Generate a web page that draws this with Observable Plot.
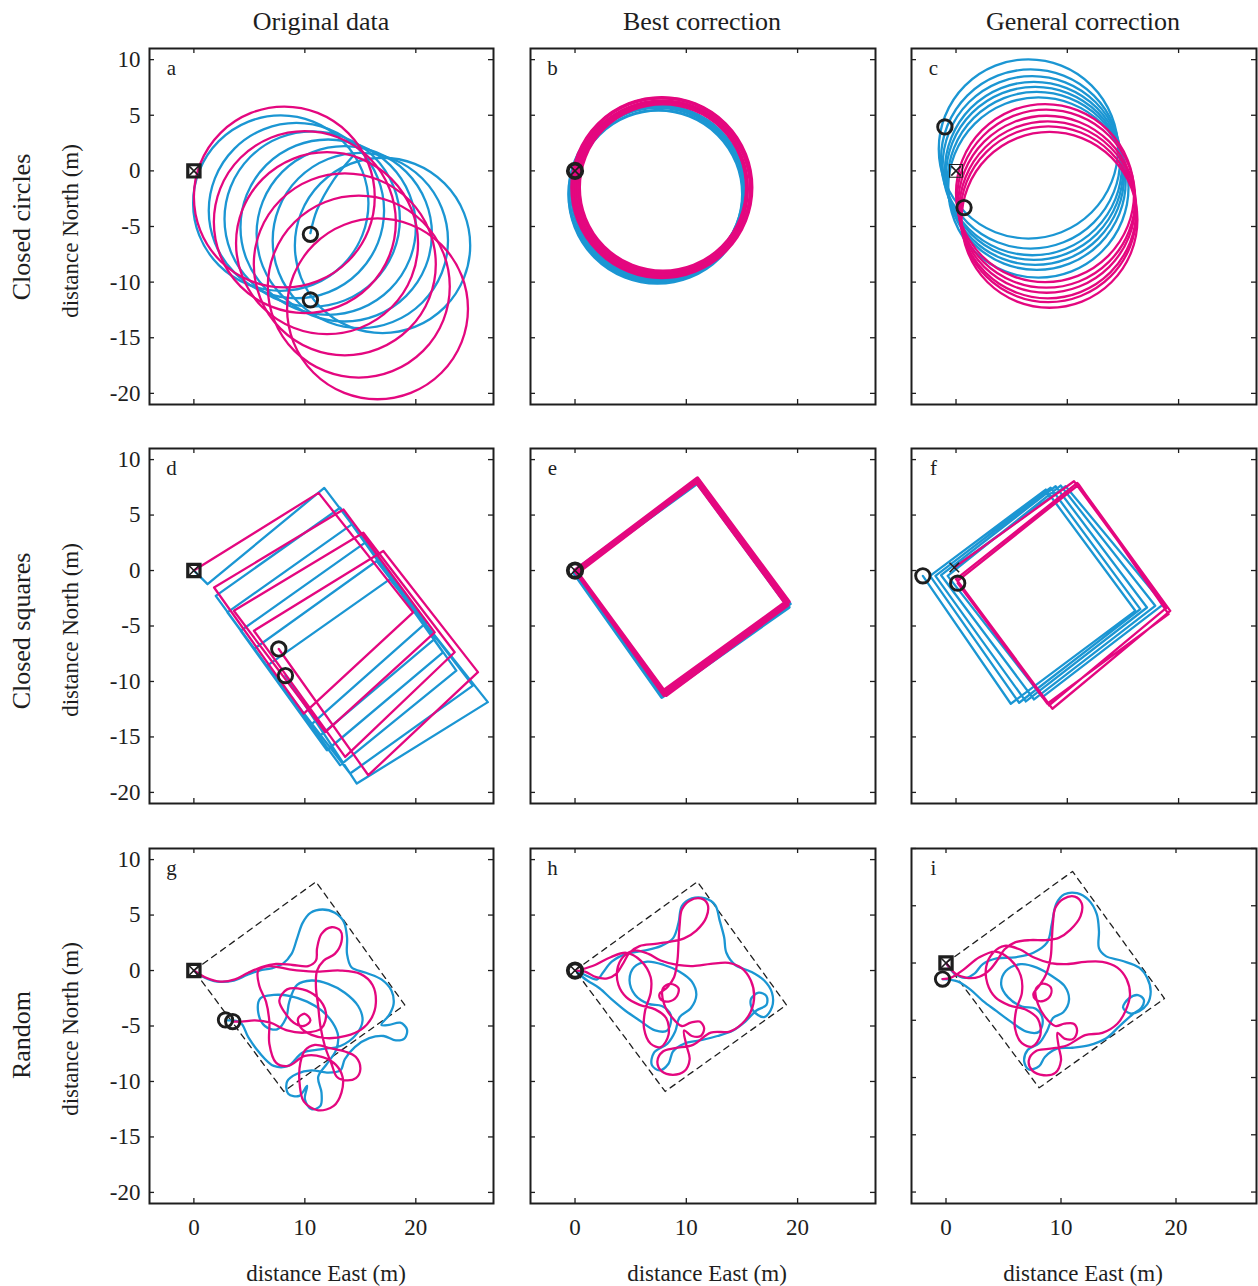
<!DOCTYPE html>
<html><head><meta charset="utf-8">
<script src="https://cdn.jsdelivr.net/npm/d3@7"></script>
<script src="https://cdn.jsdelivr.net/npm/@observablehq/plot@0.6"></script>
<style>
body{margin:0;background:#fff;}
#root{position:relative;width:1258px;height:1286px;overflow:hidden;font-family:"Liberation Serif","Times New Roman",serif;color:#1e1e1e;background:#fff;}
.lbl{position:absolute;white-space:nowrap;transform:translate(-50%,-50%);line-height:1;}
.rot{transform:translate(-50%,-50%) rotate(-90deg);}
</style></head><body><div id="root"></div>
<script>
// ---------- texts ----------
const columnTitles = ["Original data", "Best correction", "General correction"];
const rowTitles = ["Closed circles", "Closed squares", "Random"];
const yAxisTitle = "distance North (m)";
const xAxisTitle = "distance East (m)";
const panelLetters = ["a","b","c","d","e","f","g","h","i"];
const yTickValues = [10, 5, 0, -5, -10, -15, -20];
const xTickValues = [0, 10, 20];

// ---------- data (metres) ----------
// circle loops: [centre East, centre North, radius]
const loopsA_blue = [[7.83,-2.9,7.9],[9.24,-3.57,7.9],[10.66,-4.33,7.9],[12.1,-5.06,7.9],[13.55,-5.66,7.9],[15.0,-6.26,7.9],[17.0,-6.7,7.9]];
const loopsA_magenta = [[8.15,-2.35,8.15],[10.0,-4.6,8.2],[12.0,-6.5,8.2],[13.6,-8.4,8.2],[14.86,-10.4,8.2],[16.55,-12.4,8.15]];
const tailA_blue = [[14.3,1.3],[12.6,-0.8],[11.1,-3.5],[10.5,-5.6]];
const loopsB_blue = [[7.4,-2.15,7.95],[7.5,-2.05,7.8],[7.45,-1.95,7.65],[7.5,-2.1,7.55],[7.6,-1.9,7.75],[7.35,-2.0,7.9]];
const loopsB_magenta = [[7.8,-1.5,8.1],[7.85,-1.6,7.9],[7.75,-1.55,7.7],[7.9,-1.5,7.5],[7.8,-1.45,8.0],[7.7,-1.6,7.8],[7.85,-1.5,7.6]];
const loopsC_blue = [[6.5,1.97,8.05],[6.7,1.07,8.05],[6.85,0.47,8.05],[7.0,0.0,8.0],[7.1,-0.45,8.0],[7.25,-0.9,8.0],[7.4,-1.5,8.1]];
const loopsC_magenta = [[8.0,-2.0,8.0],[8.1,-2.5,8.0],[8.15,-3.0,7.95],[8.25,-3.5,7.95],[8.3,-3.9,7.9],[8.4,-4.4,7.9]];

// square walks: [East, North]
const pathD_blue = [[0,0],[1.23,-1.23],[11.75,7.45],[20.96,-4.67],[10.49,-13.96],[1.97,-2.28],[13.18,5.66],[21.7,-6.17],[11.24,-15.0],[3.02,-3.77],[14.23,4.16],[22.45,-7.37],[11.99,-16.2],[4.22,-5.43],[15.43,2.51],[23.65,-9.02],[13.18,-17.55],[5.41,-7.07],[16.47,0.86],[25.14,-10.37],[14.08,-18.3],[6.61,-8.57],[17.67,-0.78],[26.49,-11.86],[14.68,-19.2],[8.25,-9.47]];
const pathD_magenta = [[0,0],[11.24,7.0],[19.76,-3.77],[9.9,-12.9],[1.82,-1.53],[13.48,5.5],[21.7,-5.57],[11.84,-14.56],[3.6,-3.63],[15.27,3.41],[23.5,-7.37],[13.63,-16.8],[5.41,-5.43],[17.07,1.76],[25.6,-9.16],[15.72,-18.45],[7.65,-7.07]];
const pathE_blue = [[0,0],[10.9,8.0],[19.3,-3.0],[7.8,-11.4],[-0.1,-0.2],[11.0,7.9],[19.2,-3.3],[7.9,-11.3],[0,0],[11.1,8.1],[19.1,-3.1],[7.7,-11.2],[0,0]];
const pathE_magenta = [[0,0],[11.0,8.3],[19.2,-2.8],[8.0,-11.2],[0.1,-0.1],[11.1,8.1],[19.0,-3.0],[8.1,-11.0],[0.2,-0.2],[10.9,8.0],[18.9,-2.9],[7.9,-10.9],[0.1,-0.1],[11.05,8.2],[19.1,-3.1],[8.2,-11.2],[0,0]];
const pathF_blue = [[-0.15,0.27],[9.85,7.6],[18.65,-3.03],[7.76,-11.41],[-0.75,-0.48],[9.4,7.66],[17.9,-3.18],[7.01,-11.62],[-1.34,-0.42],[8.95,7.6],[17.16,-3.33],[6.27,-11.8],[-1.85,-0.48],[8.5,7.46],[16.56,-3.48],[5.67,-11.92],[-2.33,-0.48],[8.06,7.3],[16.11,-3.63],[4.92,-12.01],[-2.98,-0.48]];
const pathF_magenta = [[-0.15,0.27],[10.6,8.05],[18.95,-3.33],[8.36,-12.16],[0,-0.78],[10.9,7.9],[19.25,-3.63],[8.66,-12.46],[0.15,-0.93],[11.04,7.75],[19.1,-3.93],[8.2,-12.0],[0.15,-1.14]];

// random walks
const pathG_blue = [[0,0],[0.9,-0.6],[2.1,-1.0],[3.6,-0.9],[4.8,-0.4],[5.9,0.0],[7.0,0.2],[8.0,0.6],[8.8,1.5],[9.3,2.9],[9.8,4.3],[10.5,5.2],[11.6,5.5],[12.7,5.2],[13.5,4.4],[13.8,3.0],[13.8,1.5],[14.2,0.3],[15.5,-0.2],[16.9,-0.8],[17.8,-1.8],[18.0,-3.0],[17.6,-4.0],[16.9,-4.9],[17.6,-4.9],[18.6,-4.7],[19.2,-5.3],[19.0,-6.1],[18.2,-6.3],[17.1,-5.9],[15.8,-6.1],[14.5,-6.9],[13.6,-8.0],[13.2,-9.0],[12.0,-9.2],[10.6,-9.0],[9.3,-9.3],[8.4,-10.0],[8.5,-11.1],[9.5,-11.3],[10.2,-10.4],[10.0,-11.6],[10.6,-12.5],[11.4,-12.2],[11.5,-11.0],[11.2,-9.6],[12.0,-8.4],[12.8,-7.2],[13.0,-5.9],[12.5,-4.7],[11.5,-3.6],[10.2,-2.8],[8.7,-2.3],[7.2,-2.2],[6.0,-2.5],[5.8,-3.8],[6.4,-5.0],[7.5,-5.3],[8.3,-4.3],[8.6,-2.8],[9.3,-1.3],[10.6,-0.9],[12.1,-1.2],[13.6,-2.0],[14.8,-3.2],[15.2,-4.5],[14.6,-5.8],[13.2,-6.8],[11.4,-7.1],[9.8,-7.4],[8.5,-8.6],[7.2,-8.6],[5.9,-7.4],[4.9,-6.0],[4.2,-4.7],[3.0,-4.5]];
const pathG_magenta = [[0,0],[1.0,-0.6],[2.4,-1.0],[3.7,-0.8],[4.9,-0.2],[6.1,0.3],[7.4,0.6],[8.9,0.5],[10.3,0.4],[11.0,0.9],[11.1,2.0],[11.5,3.3],[12.4,3.9],[13.2,3.6],[13.3,2.6],[12.7,1.5],[11.7,0.9],[11.1,0.0],[11.0,-1.5],[11.2,-3.2],[11.4,-5.0],[11.8,-6.8],[12.4,-8.4],[12.9,-9.6],[13.7,-9.9],[14.6,-9.7],[15.0,-8.9],[14.6,-7.8],[13.6,-7.3],[12.3,-7.0],[10.9,-6.7],[10.0,-7.2],[9.6,-8.3],[9.5,-9.8],[9.9,-11.8],[11.2,-12.6],[12.6,-12.2],[13.3,-11.0],[13.4,-9.6],[12.8,-8.5],[11.6,-7.8],[10.0,-7.7],[8.5,-8.6],[7.4,-8.3],[6.8,-6.6],[6.8,-4.6],[6.5,-2.8],[5.9,-1.4],[5.8,0.0],[6.8,0.4],[8.6,0.1],[10.8,-0.1],[13.2,0.0],[15.0,-0.3],[16.1,-1.3],[16.4,-2.9],[16.0,-4.3],[15.1,-5.3],[13.7,-5.9],[12.0,-6.1],[10.6,-5.8],[9.6,-5.1],[9.4,-4.3],[10.0,-3.9],[10.5,-4.5],[9.9,-5.0],[9.0,-4.7],[8.2,-3.8],[7.7,-2.7],[8.4,-1.7],[9.8,-1.7],[11.1,-2.4],[11.9,-3.8],[11.5,-5.2],[10.0,-5.6],[8.4,-5.4],[6.9,-4.7],[5.5,-4.5],[4.3,-4.6],[3.5,-4.6]];
const pathH_blue = [[0,0],[0.9,-0.4],[2.0,-0.8],[2.5,-0.2],[3.3,0.8],[4.6,1.5],[6.2,1.8],[7.7,2.2],[8.8,2.9],[9.3,4.3],[9.6,5.8],[10.5,6.5],[11.7,6.5],[12.6,5.9],[13.0,4.5],[13.4,3.0],[13.6,1.6],[14.4,0.5],[15.8,-0.1],[17.0,-0.9],[17.7,-2.0],[17.7,-3.3],[17.0,-4.2],[16.0,-3.6],[15.8,-2.6],[16.5,-2.0],[17.2,-2.3],[17.2,-3.1],[16.3,-3.6],[15.3,-4.6],[14.2,-5.4],[12.8,-5.9],[11.2,-6.3],[9.8,-6.6],[8.8,-7.3],[8.4,-8.4],[7.6,-9.0],[6.9,-8.5],[7.1,-7.4],[8.3,-6.6],[9.0,-5.5],[9.4,-4.2],[10.4,-3.4],[10.9,-2.2],[10.5,-1.0],[9.4,-0.1],[8.0,0.5],[6.5,0.8],[5.3,0.3],[4.9,-0.9],[5.4,-2.2],[6.6,-3.0],[7.8,-3.2],[8.6,-4.0],[8.3,-5.4],[7.2,-5.4],[5.8,-4.5],[4.5,-3.6],[3.3,-2.6],[2.2,-1.6],[1.1,-0.9],[0.2,-0.2]];
const pathH_magenta = [[0,0],[0.9,-0.1],[1.9,-0.6],[2.9,-0.7],[3.7,-0.3],[4.3,0.6],[4.9,1.6],[5.8,2.2],[7.2,2.4],[8.6,2.6],[9.8,2.9],[10.9,3.6],[11.8,4.8],[11.9,6.0],[11.3,6.5],[10.3,6.3],[9.6,5.5],[9.4,4.1],[9.3,2.5],[9.2,0.9],[8.9,-0.6],[8.3,-1.5],[7.6,-2.1],[7.7,-2.6],[8.4,-2.8],[9.1,-2.4],[9.3,-1.6],[8.6,-1.2],[7.9,-1.6],[8.0,-3.0],[8.7,-4.2],[9.6,-5.0],[10.4,-4.7],[11.2,-4.6],[11.6,-5.2],[11.3,-5.9],[10.5,-5.9],[9.8,-5.4],[10.0,-6.7],[10.3,-8.0],[9.8,-9.1],[8.8,-9.4],[7.8,-9.1],[7.4,-8.2],[7.9,-7.3],[9.0,-7.0],[10.6,-6.7],[12.2,-5.6],[13.9,-5.5],[15.0,-4.8],[15.8,-3.7],[16.1,-2.3],[15.8,-0.9],[15.0,0.2],[13.8,0.7],[12.2,0.6],[10.6,0.4],[9.2,0.5],[7.7,0.9],[6.6,1.5],[5.3,1.8],[4.3,1.2],[3.8,0.1],[3.9,-1.3],[4.6,-2.4],[5.8,-3.1],[7.2,-3.5],[8.2,-4.3],[8.4,-5.8],[7.7,-6.9],[6.8,-6.6],[6.2,-5.2],[6.3,-3.6],[6.8,-2.0],[6.8,-0.6],[5.9,0.9],[4.6,1.6],[3.2,1.2],[1.8,0.5],[0.6,0.1]];
const pathI_blue = [[0,0],[0.7,-0.9],[1.7,-1.3],[2.5,-0.9],[3.2,-0.1],[4.4,0.4],[6.0,0.5],[7.6,0.9],[8.8,1.8],[9.2,3.4],[9.6,5.2],[10.3,6.0],[11.4,6.1],[12.4,5.5],[13.1,4.3],[13.3,2.8],[13.3,1.3],[13.9,0.6],[15.3,0.2],[16.8,-0.4],[17.5,-1.3],[17.8,-2.5],[17.5,-3.6],[16.8,-4.2],[16.0,-4.4],[15.4,-3.9],[15.9,-3.1],[16.7,-2.8],[17.2,-3.2],[17.0,-3.9],[16.2,-4.5],[15.1,-5.5],[13.9,-6.6],[12.4,-7.2],[11.0,-7.4],[9.6,-7.5],[8.6,-8.2],[8.1,-9.0],[7.2,-9.3],[6.8,-8.6],[7.1,-7.6],[8.1,-7.0],[8.8,-5.9],[9.3,-4.8],[10.2,-4.3],[10.7,-3.2],[10.3,-2.0],[9.3,-1.2],[7.9,-0.4],[6.5,-0.1],[5.2,-0.7],[4.8,-1.9],[5.4,-3.0],[6.6,-3.8],[7.8,-4.0],[8.4,-4.9],[8.1,-6.0],[7.0,-6.0],[5.6,-5.1],[4.4,-4.2],[3.2,-3.3],[2.1,-2.3],[1.0,-1.6],[-0.3,-1.4]];
const pathI_magenta = [[0,0],[0.8,-0.9],[1.8,-1.3],[2.9,-1.2],[3.8,-0.6],[4.5,0.3],[5.1,1.2],[6.0,1.8],[7.3,2.0],[8.7,2.0],[9.8,2.2],[10.8,2.9],[11.7,4.1],[11.8,5.2],[11.2,5.8],[10.2,5.6],[9.5,4.8],[9.3,3.5],[9.2,2.0],[9.1,0.5],[8.7,-1.0],[8.1,-2.0],[7.6,-2.7],[7.8,-3.2],[8.5,-3.3],[9.1,-2.8],[9.1,-2.1],[8.4,-1.8],[7.8,-2.3],[8.0,-3.6],[8.6,-4.7],[9.5,-5.5],[10.3,-5.3],[11.1,-5.3],[11.4,-5.9],[11.1,-6.6],[10.3,-6.6],[9.7,-6.1],[9.8,-7.3],[10.0,-8.5],[9.5,-9.6],[8.5,-9.8],[7.5,-9.4],[7.2,-8.5],[7.8,-7.7],[8.9,-7.5],[10.5,-7.2],[12.1,-6.3],[13.6,-6.1],[14.9,-5.3],[15.6,-4.2],[16.0,-2.8],[15.7,-1.4],[14.9,-0.4],[13.6,0.1],[12.1,0.1],[10.5,-0.1],[9.1,0.0],[7.6,0.5],[6.4,1.2],[5.1,1.5],[4.1,0.9],[3.5,-0.3],[3.6,-1.8],[4.3,-3.0],[5.5,-3.7],[7.0,-4.1],[8.0,-4.9],[8.2,-6.3],[7.5,-7.3],[6.6,-7.0],[6.0,-5.7],[6.1,-4.1],[6.6,-2.6],[6.5,-1.1],[5.6,0.3],[4.3,1.0],[2.9,0.5],[1.5,-0.6],[0.4,-1.3],[-0.3,-1.4]];
const arenaRect = [[0,0],[11.0,8.0],[19.0,-3.1],[8.1,-10.9],[0,0]];

// start (square / cross) and end (circle) positions
const startPoints = [[0,0],[0,0],[0,0],[0,0],[0,0],[-0.15,0.27],[0,0],[0,0],[0,0]];
const endPoints = [
  [[10.5,-5.7],[10.5,-11.6]],
  [[0,0]],
  [[-1.0,3.95],[0.72,-3.3]],
  [[7.65,-7.07],[8.25,-9.47]],
  [[0,0]],
  [[-2.98,-0.48],[0.15,-1.14]],
  [[2.85,-4.45],[3.5,-4.6]],
  [[0,0]],
  [[-0.3,-1.4]]
];

// ---------- layout & style ----------
const BLUE = "#1b96d3", MAGENTA = "#e4077f", INK = "#1e1e1e";
const LW = 2.3;
const colFrames = [[149,493],[530,875],[911,1256]];
const rowFrames = [[48,404],[448,803],[848,1203]];
const root = document.getElementById("root");
const FONT = "Liberation Serif, Times New Roman, serif";

const px = d => d[0], py = d => d[1];
const loopMarks = (loops, color, sw) => Plot.dot(loops, {x: d=>d[0], y: d=>d[1], r: d=>d[2], stroke: color, strokeWidth: sw, fill: "none"});
const pathMark = (path, color, curve, sw=LW) => Plot.line(path, {x: px, y: py, stroke: color, strokeWidth: sw, curve, strokeLinejoin: "round", strokeLinecap: "round"});

function startMark(i) {
  const p = [startPoints[i]];
  const sq = {x: px, y: py, symbol: "square", fill: "none", stroke: INK};
  const cross = Plot.dot(p, {x: px, y: py, symbol: "times", r: 4.4, stroke: INK, strokeWidth: 1.6});
  if (i === 1 || i === 4 || i === 7 || i === 5) return [cross];
  if (i === 2) return [Plot.dot(p, {...sq, r: 7.2, strokeWidth: 1.2}), cross];
  return [Plot.dot(p, {...sq, r: 6.9, strokeWidth: 3.2}), cross];
}
function endMark(i) {
  const sw = (i === 1 || i === 4 || i === 7) ? 3.8 : 2.9;
  return Plot.dot(endPoints[i], {x: px, y: py, r: 7.2, stroke: INK, strokeWidth: sw, fill: "none"});
}

const dashed = () => Plot.line(arenaRect, {x: px, y: py, stroke: INK, strokeWidth: 1.3, strokeDasharray: "6,5"});
const panelMarks = [
  [loopMarks(loopsA_blue, BLUE, LW), pathMark(tailA_blue, BLUE, "catmull-rom"), loopMarks(loopsA_magenta, MAGENTA, LW)],
  [loopMarks(loopsB_blue, BLUE, 3), loopMarks(loopsB_magenta, MAGENTA, 3)],
  [loopMarks(loopsC_blue, BLUE, LW), loopMarks(loopsC_magenta, MAGENTA, LW)],
  [pathMark(pathD_blue, BLUE, "linear"), pathMark(pathD_magenta, MAGENTA, "linear")],
  [pathMark(pathE_blue, BLUE, "linear", 3.8), pathMark(pathE_magenta, MAGENTA, "linear", 4)],
  [pathMark(pathF_blue, BLUE, "linear"), pathMark(pathF_magenta, MAGENTA, "linear")],
  [dashed(), pathMark(pathG_blue, BLUE, "catmull-rom"), pathMark(pathG_magenta, MAGENTA, "catmull-rom")],
  [dashed(), pathMark(pathH_blue, BLUE, "catmull-rom"), pathMark(pathH_magenta, MAGENTA, "catmull-rom")],
  [dashed(), pathMark(pathI_blue, BLUE, "catmull-rom"), pathMark(pathI_magenta, MAGENTA, "catmull-rom")]
];

for (let i = 0; i < 9; i++) {
  const row = Math.floor(i / 3), col = i % 3;
  const [fx0, fx1] = colFrames[col], [fy0, fy1] = rowFrames[row];
  const w = fx1 - fx0, h = fy1 - fy0;
  const ml = 60, mr = 6, mt = 6, mb = 44;
  const xd = i === 8 ? [-3, 27] : [-4, 27];
  const yd = i === 8 ? [-21, 10] : [-21, 11];
  const marks = [
    ...panelMarks[i],
    ...startMark(i),
    endMark(i),
    Plot.tickX(xTickValues, {x: d=>d, insetBottom: h - 5, stroke: INK, strokeWidth: 1.3}),
    Plot.tickX(xTickValues, {x: d=>d, insetTop: h - 5, stroke: INK, strokeWidth: 1.3}),
    Plot.tickY(yTickValues, {y: d=>d, insetRight: w - 5, stroke: INK, strokeWidth: 1.3}),
    Plot.tickY(yTickValues, {y: d=>d, insetLeft: w - 5, stroke: INK, strokeWidth: 1.3}),
    Plot.frame({stroke: INK, strokeWidth: 2}),
    Plot.text([panelLetters[i]], {frameAnchor: "top-left", dx: 22, dy: 20, lineAnchor: "middle", textAnchor: "middle", fontSize: 21, fill: INK})
  ];
  if (col === 0) marks.push(Plot.text(yTickValues, {y: d=>d, frameAnchor: "left", dx: -9, textAnchor: "end", lineAnchor: "middle", text: d=>String(d), fontSize: 23, fill: INK}));
  if (row === 2) marks.push(Plot.text(xTickValues, {x: d=>d, frameAnchor: "bottom", dy: 24, lineAnchor: "middle", text: d=>String(d), fontSize: 23, fill: INK}));
  const opts = {
    width: w + ml + mr, height: h + mt + mb,
    marginLeft: ml, marginRight: mr, marginTop: mt, marginBottom: mb,
    x: {domain: xd, axis: null},
    y: {domain: yd, axis: null},
    style: {fontFamily: FONT, background: "transparent", overflow: "visible"},
    marks
  };
  if (row === 0) opts.r = {type: "linear", domain: [0, xd[1] - xd[0]], range: [0, w]};
  const svg = Plot.plot(opts);
  svg.style.position = "absolute";
  svg.style.left = (fx0 - ml) + "px";
  svg.style.top = (fy0 - mt) + "px";
  root.appendChild(svg);
}

function label(text, x, y, size, rotate) {
  const d = document.createElement("div");
  d.className = "lbl" + (rotate ? " rot" : "");
  d.textContent = text;
  d.style.left = x + "px"; d.style.top = y + "px"; d.style.fontSize = size + "px";
  root.appendChild(d);
}
const colCenters = [321, 702, 1083];
const rowCenters = [227, 631, 1035];
const northCenters = [231, 630, 1029];
const eastCenters = [326, 707, 1083];
columnTitles.forEach((t, k) => label(t, colCenters[k], 22, 26, false));
rowTitles.forEach((t, k) => label(t, 22, rowCenters[k], 26, true));
northCenters.forEach(c => label(yAxisTitle, 70, c, 23, true));
eastCenters.forEach(c => label(xAxisTitle, c, 1273, 23, false));
</script></body></html>
